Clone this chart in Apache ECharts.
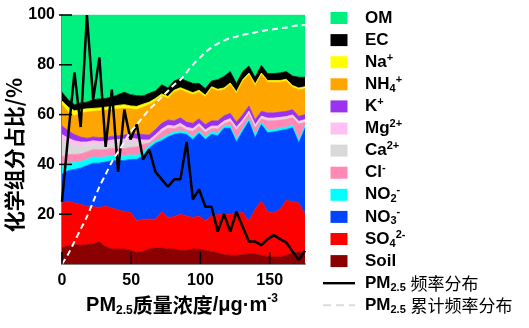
<html>
<head>
<meta charset="utf-8">
<script src="https://cdn.jsdelivr.net/npm/echarts@6/dist/echarts.min.js"></script>
<style>
    body { margin: 0; background: #fff; }
    #main { width: 529px; height: 328px; }
</style>
</head>
<body>
<div id="main"></div>
<script>
// PM2.5 mass concentration (bin positions, ug/m3), evenly spaced
var pm = [0, 4.5, 9, 13.5, 18, 22.5, 27, 31.5, 36, 40.5, 45, 49.5, 54, 58.5, 63, 67.5, 72, 76.5, 81, 85.5,
          90, 94.5, 99, 103.5, 108, 112.5, 117, 121.5, 126, 130.5, 135, 139.5, 144, 148.5, 153, 157.5, 162, 166.5, 171, 175.5];

// component shares, % (bottom to top)
var soil = [6.5,7.5,7.8,7.5,7.8,8,9,7,6,6,6,5.5,4.7,5,6,6.5,6.5,6,6,5.5,5.5,6,6,5.5,5,4.5,3.8,3.5,3.5,3.8,4,4,3.5,3,2.8,2.8,3.5,4.5,4.8,4.5];
var so4 = [18,17.8,16.7,16.5,15.2,15,13.7,16.3,16.5,15.7,15,15.2,12.8,13,12,11.5,14.5,12.7,13,14.5,13.8,12.7,13.3,11.8,14.3,15.3,16.2,16.5,17,16.9,13.3,18,21.8,18,17.7,19.2,22.1,20.5,19.7,15.5];
var no3 = [11.5,12.2,13.5,14.5,16.5,17.5,17.8,17.7,19,19.8,20.5,21.3,24.5,25.5,28.5,30.5,28.5,32.3,33,32.5,32.7,31.3,33.2,32.7,32.7,31.7,34.5,34.5,28.5,32.6,40,28.7,30.7,31.7,32.5,31.5,28.4,29.7,24.2,34.5];
var no2 = [3,3,2.8,2.7,2.5,2.5,2.3,2,2,2,1.8,1.8,1.6,1.5,1.1,1,1,1,1,1,1,1,1,1,1,1,1,1,1,1,1,1,1,1,1,1,1,1,1,1];
var cl = [4,3.5,3.2,3,3,3,3,3,3,3,3,3,3.4,3,1,1.3,2.5,2.5,1.3,1.8,0.8,2.3,1.8,1.8,1.3,1.8,0.8,1.8,3.8,2.5,2,3.1,1.3,3.8,3.5,3.3,3.1,3.1,6.5,1.4];
var ca = [6.5,4.5,3.5,2.8,2.5,2,1.9,2,2,2.2,2.4,2.2,1.8,1,0.6,0.5,0.5,0.5,0.5,0.5,0.5,0.5,0.5,0.5,0.5,0.5,0.5,0.5,0.5,0.5,0.5,0.5,0.5,0.5,0.5,0.5,0.5,0.5,0.5,0.5];
var mg = [2.5,2,2,2,1.5,1.5,1.5,1.3,1.3,1.3,1.5,1.5,1.4,0.8,0.6,0.6,0.7,0.7,0.6,0.7,0.6,0.6,0.6,0.6,0.6,0.6,0.6,0.6,0.6,0.6,0.6,0.6,0.6,0.6,0.6,0.6,0.6,0.6,0.6,0.6];
var k = [3.5,3,2.5,2,1.5,1.5,1.6,1.5,1.5,1.5,1.6,1.8,2.1,2.2,2,2.1,2.3,2.1,2.1,2.2,2.1,2.1,1.9,2.1,2.1,2.1,2.1,2.1,2.1,2.1,2.1,2.1,1.9,2.1,2.1,2.1,2.1,2.1,2,2];
var nh4 = [8.5,7.5,7.5,9.5,10.5,10.3,10.7,11,10.7,10.8,10.7,10,9.7,11,12.2,11.5,11,8.7,11.5,11.3,12,11.5,10.7,11,13,12,10.5,11.5,11.5,13.3,12.5,13.6,14.7,12.3,12.3,12,12.2,9,10.7,10.5];
var na = [1.5,2,2,1.5,1.3,1.2,1.2,1.2,1.3,1.4,1.5,1.2,1.3,1.2,1,1,0.8,0.8,0.8,0.8,0.8,0.8,0.8,0.8,0.7,0.7,0.7,0.7,0.7,0.7,0.7,0.7,0.7,0.7,0.7,0.7,0.7,0.7,0.7,0.7];
var ec = [3.5,3,2.5,2.7,2.7,3.5,3.6,3.5,3.7,4.3,5,4.5,4.3,3.3,3.5,3,3.7,3.4,3.7,3.7,3.7,3.7,2.7,2.7,2.3,3.8,4.6,4.6,3.3,3.3,2.8,2.7,3.1,2.8,2.8,3,3.1,3.8,4.3,3.8];
var om = [31,34,36,35.3,35,34,33.7,33.5,33,32,31,32,32.4,32.5,31.5,30.5,28,29.3,26.5,25.5,26.5,27.5,27.5,29.5,26.5,26,24.7,22.7,27.5,22.7,20.5,25,20.2,23.5,23.5,23.3,22.7,24.5,25,25];

// PM2.5 frequency and cumulative frequency
var freq = [25,52,77,55,100,66,83,47,70,37,62,50,56,42,46,37,34,31,34,34,49,26,30,23,23,13,20,13,21,15,9,9,7.6,10,11.6,10,8.7,5,1.7,5.3];
var cumFreq = [0,4,9,14,19,25,31,36,41,45,49,53,56,59,62,64.5,67,69.5,72,74,77,80,82.5,85,87,88.5,89.7,90.7,91.3,92,92.5,93,93.5,94,94.3,94.7,95,95.5,95.8,96];

// tick positions
var xTicks = [0, 50, 100, 150];
var yTicks = [20, 40, 60, 80, 100];

var layers = [
    {name: 'Soil', text: 'Soil', color: '#8B0000', data: soil},
    {name: 'SO42-', text: 'SO{sub|4}{sup|2-}', color: '#FF0000', data: so4},
    {name: 'NO3-', text: 'NO{sub|3}{sup|-}', color: '#0044FF', data: no3},
    {name: 'NO2-', text: 'NO{sub|2}{sup|-}', color: '#00FFFF', data: no2},
    {name: 'Cl-', text: 'Cl{sup|-}', color: '#FF88B4', data: cl},
    {name: 'Ca2+', text: 'Ca{sup|2+}', color: '#D9D9D9', data: ca},
    {name: 'Mg2+', text: 'Mg{sup|2+}', color: '#FFC0F2', data: mg},
    {name: 'K+', text: 'K{sup|+}', color: '#9933EE', data: k},
    {name: 'NH4+', text: 'NH{sub|4}{sup|+}', color: '#FFA500', data: nh4},
    {name: 'Na+', text: 'Na{sup|+}', color: '#FFFF00', data: na},
    {name: 'EC', text: 'EC', color: '#000000', data: ec},
    {name: 'OM', text: 'OM', color: '#00F080', data: om}
];

var FREQ = 'PM2.5 频率分布';
var CUM = 'PM2.5 累计频率分布';
var labelText = {};
labelText[FREQ] = 'PM{sub|2.5} {cn|频率分布}';
labelText[CUM] = 'PM{sub|2.5} {cn|累计频率分布}';

var series = [];
layers.forEach(function (l) {
    labelText[l.name] = l.text;
    series.push({
        name: l.name,
        type: 'line',
        stack: 'total',
        symbol: 'none',
        xAxisIndex: 0,
        data: l.data,
        itemStyle: {color: l.color},
        lineStyle: {color: l.color, width: 0.8},
        areaStyle: {color: l.color, opacity: 1},
        z: 2
    });
});
series.push({
    name: FREQ,
    type: 'line',
    symbol: 'none',
    xAxisIndex: 0,
    data: freq,
    itemStyle: {color: '#000'},
    lineStyle: {color: '#000', width: 2.5},
    z: 4
});
series.push({
    name: CUM,
    type: 'line',
    symbol: 'none',
    smooth: 0.3,
    xAxisIndex: 0,
    data: cumFreq,
    itemStyle: {color: '#fff'},
    lineStyle: {color: '#fff', width: 2, type: [6, 4]},
    z: 5
});

// inside tick marks, drawn above the filled areas
series.push({
    name: 'xTicks',
    type: 'custom',
    xAxisIndex: 1,
    silent: true,
    clip: false,
    z: 8,
    data: xTicks.map(function (v) { return [v, 0]; }),
    renderItem: function (params, api) {
        var p = api.coord([api.value(0), api.value(1)]);
        return {
            type: 'line',
            shape: {x1: p[0], y1: p[1], x2: p[0], y2: p[1] - 12},
            style: {stroke: '#000', lineWidth: 1.5}
        };
    }
});
series.push({
    name: 'yTicks',
    type: 'custom',
    xAxisIndex: 1,
    silent: true,
    clip: false,
    z: 8,
    data: yTicks.map(function (v) { return [0, v]; }),
    renderItem: function (params, api) {
        var p = api.coord([api.value(0), api.value(1)]);
        return {
            type: 'line',
            shape: {x1: p[0] - 3, y1: p[1], x2: p[0] + 10, y2: p[1]},
            style: {stroke: '#000', lineWidth: 1.5}
        };
    }
});

var legendData = layers.slice().reverse().map(function (l) {
    return {name: l.name, icon: 'path://M0,0H17V12H0Z'};
});
legendData.push({name: FREQ, icon: 'path://M0,0H32V2.4H0Z', itemStyle: {color: '#000'}});
legendData.push({name: CUM, icon: 'path://M0,0H8V2H0Z M13,0H21V2H13Z M26,0H32V2H26Z', itemStyle: {color: '#dcdcdc'}});

var latin = '"Liberation Sans", "Noto Sans CJK SC", sans-serif';

var chart = echarts.init(document.getElementById('main'));
chart.setOption({
    animation: false,
    backgroundColor: '#fff',
    grid: {left: 62, top: 15, width: 243, height: 249},
    xAxis: [
        {
            type: 'category',
            data: pm,
            boundaryGap: false,
            show: false
        },
        {
            type: 'value',
            min: 0,
            max: 175.5,
            interval: 50,
            position: 'bottom',
            splitLine: {show: false},
            axisLine: {show: true, lineStyle: {color: '#808080', width: 2}},
            axisTick: {show: false},
            axisLabel: {
                color: '#000', fontWeight: 'bold', fontSize: 16, fontFamily: latin, margin: 9,
                showMaxLabel: false
            }
        }
    ],
    yAxis: {
        type: 'value',
        min: 0,
        max: 100,
        interval: 20,
        splitLine: {show: false},
        axisLine: {show: true, lineStyle: {color: '#808080', width: 2}},
        axisTick: {show: false},
        axisLabel: {
            color: '#000', fontWeight: 'bold', fontSize: 16, fontFamily: latin, margin: 7,
            showMinLabel: false
        }
    },
    legend: {
        orient: 'vertical',
        left: 318,
        top: 3,
        itemWidth: 32,
        itemHeight: 12,
        itemGap: 2.1,
        selectedMode: false,
        data: legendData,
        formatter: function (name) { return labelText[name]; },
        textStyle: {
            color: '#000', fontSize: 17, fontWeight: 'bold', fontFamily: latin, lineHeight: 20,
            padding: [0, 0, 0, 5],
            rich: {
                sub: {fontSize: 11, fontWeight: 'bold', fontFamily: latin, lineHeight: 11, verticalAlign: 'bottom'},
                sup: {fontSize: 11, fontWeight: 'bold', fontFamily: latin, lineHeight: 11, verticalAlign: 'top'},
                cn: {fontSize: 17, fontWeight: 'normal', fontFamily: '"Noto Sans CJK SC", sans-serif', lineHeight: 20}
            }
        }
    },
    graphic: [
        {
            type: 'text',
            x: 14,
            y: 155,
            rotation: Math.PI / 2,
            style: {
                text: '化学组分占比/%',
                font: 'bold 21px "Noto Sans CJK SC", sans-serif',
                fill: '#000',
                align: 'center',
                verticalAlign: 'middle'
            }
        },
        {
            type: 'text',
            x: 182,
            y: 305,
            style: {
                text: '{a|PM}{s|2.5}{b|质量浓度}{a|/μg·m}{p|-3}',
                fill: '#000',
                align: 'center',
                verticalAlign: 'middle',
                rich: {
                    a: {font: 'bold 20px "Liberation Sans", sans-serif', lineHeight: 24},
                    b: {font: 'bold 20px "Noto Sans CJK SC", sans-serif', lineHeight: 24},
                    s: {font: 'bold 12px "Liberation Sans", sans-serif', lineHeight: 12, verticalAlign: 'bottom'},
                    p: {font: 'bold 12px "Liberation Sans", sans-serif', lineHeight: 12, verticalAlign: 'top'}
                }
            }
        }
    ],
    series: series
});

window.onresize = chart.resize;
</script>
</body>
</html>
